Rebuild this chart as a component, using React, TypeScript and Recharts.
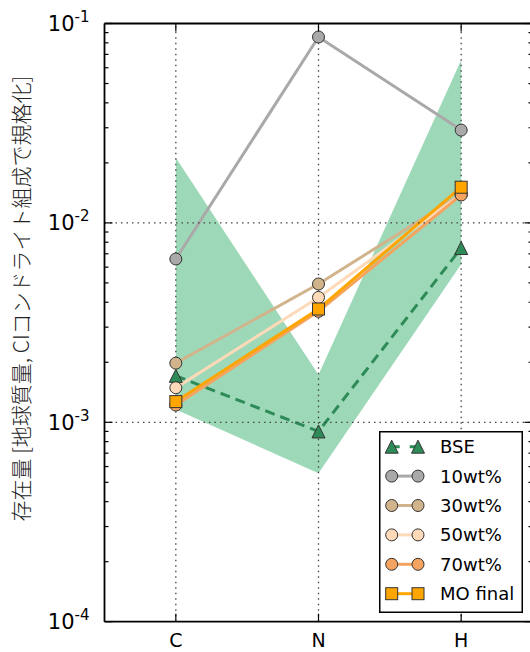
import React from 'react'
import {
  ComposedChart, Line, Area, XAxis, YAxis, ReferenceLine, Legend,
} from 'recharts'

// categories and series values
const categories = ['C', 'N', 'H']
const bse = [0.00171, 0.0009, 0.00748]
const wt10 = [0.00659, 0.0856, 0.0292]
const wt30 = [0.00198, 0.00494, 0.0139]
const wt50 = [0.00149, 0.00423, 0.0139]
const wt70 = [0.00122, 0.0036, 0.0138]
const moFinal = [0.00127, 0.0037, 0.0151]
const bandLow = [0.00116, 0.000555, 0.0062]
const bandHigh = [0.0212, 0.00173, 0.0656]

const decades = [1e-4, 1e-3, 1e-2, 1e-1]
const decadeLabels = ['-4', '-3', '-2', '-1']
const minorSteps = [2, 3, 4, 5, 6, 7, 8, 9]

const yTicks: number[] = []
decades.forEach((d, i) => {
  yTicks.push(d)
  if (i < decades.length - 1) minorSteps.forEach((k) => yTicks.push(d * k))
})

const data = categories.map((name, i) => ({
  idx: i,
  name,
  bse: bse[i],
  wt10: wt10[i],
  wt30: wt30[i],
  wt50: wt50[i],
  wt70: wt70[i],
  moFinal: moFinal[i],
  band: [bandLow[i], bandHigh[i]],
}))

const series = [
  { key: 'bse', name: 'BSE', color: '#2e8b57', shape: 'triangle', dash: '10 6' },
  { key: 'wt10', name: '10wt%', color: '#a9a9a9', shape: 'circle' },
  { key: 'wt30', name: '30wt%', color: '#d2b48c', shape: 'circle' },
  { key: 'wt50', name: '50wt%', color: '#ffdab9', shape: 'circle' },
  { key: 'wt70', name: '70wt%', color: '#f4a460', shape: 'circle' },
  { key: 'moFinal', name: 'MO final', color: '#ffa500', shape: 'square' },
]

const EDGE = '#333'

function Marker({ cx, cy, shape, color }: any) {
  if (shape === 'triangle') {
    const h = 6.5
    return <polygon points={`${cx},${cy - h} ${cx - h},${cy + h} ${cx + h},${cy + h}`} fill={color} stroke={EDGE} strokeWidth={1} />
  }
  if (shape === 'square') {
    return <rect x={cx - 6} y={cy - 6} width={12} height={12} fill={color} stroke={EDGE} strokeWidth={1} />
  }
  return <circle cx={cx} cy={cy} r={6} fill={color} stroke={EDGE} strokeWidth={1} />
}

const isMajor = (v: number) => decades.some((d) => Math.abs(v / d - 1) < 1e-6)

function LeftTick(props: any) {
  const { x, y, payload } = props
  const v = payload.value
  const major = isMajor(v)
  const idx = decades.findIndex((d) => Math.abs(v / d - 1) < 1e-6)
  return (
    <g>
      <line x1={x} x2={x + (major ? 8 : 4)} y1={y} y2={y} stroke="#000" strokeWidth={1.2} />
      {major && (
        <text x={x - 15} y={y + 7.5} textAnchor="end" fontFamily="DejaVu Sans" fontSize={21} fill="#000">
          10<tspan dy={-9} fontSize={15}>{decadeLabels[idx]}</tspan>
        </text>
      )}
    </g>
  )
}

function RightTick(props: any) {
  const { x, y, payload } = props
  const major = isMajor(payload.value)
  return <line x1={x} x2={x - (major ? 8 : 4)} y1={y} y2={y} stroke="#000" strokeWidth={1.2} />
}

function BottomTick(props: any) {
  const { x, y, payload } = props
  return (
    <g>
      <line x1={x} x2={x} y1={y} y2={y - 8} stroke="#000" strokeWidth={1.2} />
      <text x={x} y={y + 25} textAnchor="middle" fontFamily="DejaVu Sans" fontSize={19} fill="#000">
        {categories[payload.value]}
      </text>
    </g>
  )
}

function TopTick(props: any) {
  const { x, y } = props
  return <line x1={x} x2={x} y1={y} y2={y + 8} stroke="#000" strokeWidth={1.2} />
}

function LegendBox() {
  const rowH = 29.4
  return (
    <svg width={144} height={182} style={{ display: 'block' }}>
      <rect x={0.75} y={0.75} width={142.5} height={180.5} fill="#fff" stroke="#000" strokeWidth={1.5} />
      {series.map((s, i) => {
        const cy = 15.7 + i * rowH
        return (
          <g key={s.key}>
            <line x1={12.7} x2={39} y1={cy} y2={cy} stroke={s.color} strokeWidth={3} strokeDasharray={s.dash ? '8 10' : undefined} />
            <Marker cx={12.7} cy={cy} shape={s.shape} color={s.color} />
            <Marker cx={39} cy={cy} shape={s.shape} color={s.color} />
            <text x={61} y={cy + 6.5} fontFamily="DejaVu Sans" fontSize={18} fill="#000">{s.name}</text>
          </g>
        )
      })}
    </svg>
  )
}

function YLabel(props: any) {
  const vb = props.viewBox
  const cx = vb.x + 20
  const cy = vb.y + vb.height / 2 - 24
  return (
    <text x={cx} y={cy} transform={`rotate(-90, ${cx}, ${cy})`} textAnchor="middle" dominantBaseline="central"
      fontFamily="Noto Sans CJK JP" fontWeight={300} fontSize={21} fill="#222">
      存在量 [地球質量, CIコンドライト組成で規格化]
    </text>
  )
}

export default function App() {
  return (
    <div style={{ position: 'absolute', left: 0, top: 0, width: 530, height: 652, overflow: 'hidden', background: '#fff' }}>
      <ComposedChart width={540} height={652} data={data} margin={{ top: 0, right: 0, bottom: 0, left: 0 }}>
        <XAxis xAxisId="top" orientation="top" type="number" dataKey="idx" domain={[-0.5, 2.5]} ticks={[0, 1, 2]}
          height={23.5} tick={(p: any) => <TopTick {...p} />} tickLine={false} tickSize={0} tickMargin={0}
          axisLine={{ stroke: '#000', strokeWidth: 1.8 }} interval={0} />
        <XAxis type="number" dataKey="idx" domain={[-0.5, 2.5]} ticks={[0, 1, 2]}
          height={30.3} tick={(p: any) => <BottomTick {...p} />} tickLine={false} tickSize={0} tickMargin={0}
          axisLine={{ stroke: '#000', strokeWidth: 1.8 }} interval={0} />
        <YAxis type="number" scale="log" domain={[1e-4, 1e-1]} ticks={yTicks} allowDataOverflow
          width={104.5} tick={(p: any) => <LeftTick {...p} />} tickLine={false} tickSize={0} tickMargin={0}
          axisLine={{ stroke: '#000', strokeWidth: 1.8 }} interval={0} label={{ content: (p: any) => <YLabel {...p} /> }} />
        <YAxis yAxisId="right" orientation="right" type="number" scale="log" domain={[1e-4, 1e-1]} ticks={yTicks} allowDataOverflow
          width={7.5} tick={(p: any) => <RightTick {...p} />} tickLine={false} tickSize={0} tickMargin={0}
          axisLine={{ stroke: '#000', strokeWidth: 1.8 }} interval={0} />

        <Area dataKey="band" type="linear" stroke="none" fill="#3cb371" fillOpacity={0.5} isAnimationActive={false} legendType="none" />

        {series.map((s) => (
          <Line key={s.key} dataKey={s.key} name={s.name} type="linear" stroke={s.color} strokeWidth={3}
            strokeDasharray={s.dash} isAnimationActive={false}
            dot={(p: any) => <Marker key={`${s.key}-${p.index}`} cx={p.cx} cy={p.cy} shape={s.shape} color={s.color} />}
            activeDot={false} />
        ))}

        {[1e-3, 1e-2].map((v) => (
          <ReferenceLine key={`h${v}`} y={v} stroke="#444" strokeWidth={1.3} strokeDasharray="1.5 4" />
        ))}
        {[0, 1, 2].map((v) => (
          <ReferenceLine key={`v${v}`} x={v} stroke="#444" strokeWidth={1.3} strokeDasharray="1.5 4" />
        ))}

        <Legend layout="horizontal" verticalAlign="middle" align="center"
          wrapperStyle={{ left: 379, top: 431, width: 144, height: 182 }}
          content={() => <LegendBox />} />
      </ComposedChart>
    </div>
  )
}
